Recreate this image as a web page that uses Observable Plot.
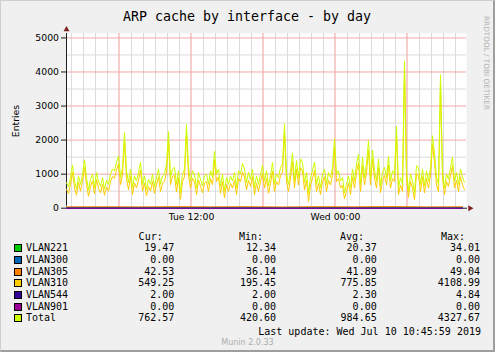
<!DOCTYPE html>
<html><head><meta charset="utf-8">
<script src="https://cdn.jsdelivr.net/npm/d3@7"></script>
<script src="https://cdn.jsdelivr.net/npm/@observablehq/plot@0.6"></script>
<style>
html,body{margin:0;padding:0;background:#f0f0f0;}
#fig{position:relative;width:495px;height:352px;background:#f0f0f0;overflow:hidden;font-family:"DejaVu Sans",sans-serif;color:#000;}
#fig .abs{position:absolute;white-space:pre;}
.mono{font-family:"DejaVu Sans Mono",monospace;font-size:10px;line-height:12px;height:12px;}
</style>
</head><body>
<div id="fig"></div>
<script>
// ---- data ----
const title = "ARP cache by interface - by day";
const yLabel = "Entries";
const startTime = new Date(Date.UTC(2019, 6, 9, 1, 35));   // Tue 01:35
const endTime = new Date(Date.UTC(2019, 6, 10, 10, 55));   // Wed 10:55
const stepMinutes = 10;
const yTicks = [0, 1000, 2000, 3000, 4000, 5000];
const yMinorGrid = [500, 1500, 2500, 3500, 4500];
const yMax = 5130;

const totalValues = [
  750,620,900,1270,800,560,950,700,1000,1420,
  900,540,850,1000,600,1050,780,640,900,560,
  820,700,1000,1150,1100,1350,1535,900,
  1200,2220,1100,750,1150,600,950,800,1050,1350,
  700,950,550,850,700,1000,620,900,1150,700,
  950,1000,1300,2250,900,1150,1200,700,1100,450,
  1000,1150,2460,1200,800,1100,1000,600,1050,850,
  650,950,1000,700,1100,900,1680,1000,1150,650,
  1000,500,900,700,950,800,1050,600,1100,1000,
  1320,1150,750,1050,850,1150,600,950,700,1000,
  1260,800,1100,650,950,1340,700,1000,900,1200,
  1300,2480,1000,700,1100,1620,800,1400,900,1450,
  1350,750,1050,430,900,1100,1360,700,950,600,
  1000,1150,700,1050,900,1200,2050,1000,1100,800,
  900,450,700,950,600,1150,800,1300,1580,700,
  1500,900,1300,1980,900,1710,1100,800,1450,650,
  1050,1200,900,1520,800,1100,1000,2400,600,900,
  700,4327,1100,500,1000,800,440,1250,1200,700,
  1150,650,1100,800,1200,2130,1600,900,700,3920,
  1100,600,1000,850,1200,1500,800,1050,700,1150,900,762
];
const vlan310Values = [
  560,430,700,1050,600,380,760,500,790,1200,
  700,350,640,800,420,840,590,450,700,380,
  620,500,790,930,880,1120,1300,690,
  980,1950,880,540,930,400,740,600,830,1120,
  500,740,370,640,500,780,430,690,920,490,
  740,780,1060,1980,690,930,960,480,880,260,
  790,920,2180,970,590,880,780,400,830,640,
  450,740,780,490,870,690,1420,780,920,440,
  780,300,690,490,730,590,820,400,870,780,
  1060,920,540,820,640,920,400,730,490,780,
  1020,590,870,440,730,1090,490,780,680,960,
  1060,2200,780,490,870,1360,590,1150,680,1190,
  1100,540,820,195,680,870,1110,490,730,400,
  780,920,490,820,680,960,1780,780,870,590,
  680,280,490,730,400,920,590,1060,1320,490,
  1240,680,1060,1700,680,1450,870,590,1200,450,
  820,960,680,1260,590,870,780,2120,400,680,
  490,4109,870,320,780,590,250,1000,960,490,
  920,450,870,590,960,1860,1340,680,490,3650,
  870,400,780,640,960,1250,590,820,490,920,680,549
];
// near-flat series, sampled every 3 hours
const flatStepHours = 3;
const vlan221Values = [22, 18, 25, 14, 20, 31, 17, 23, 13, 26, 21, 19.5];
const vlan300Values = [0, 0, 0, 0, 0, 0, 0, 0, 0, 0, 0, 0];
const vlan305Values = [40, 44, 38, 47, 41, 43, 37, 45, 42, 49, 40, 42.5];
const vlan544Values = [2, 2, 3, 2, 2, 4.8, 2, 2, 2.5, 2, 2, 2];
const vlan901Values = [0, 0, 0, 0, 0, 0, 0, 0, 0, 0, 0, 0];

const seriesNames = ["VLAN221", "VLAN300", "VLAN305", "VLAN310", "VLAN544", "VLAN901", "Total"];
const seriesColors = ["#00cc00", "#0066b3", "#ff8000", "#ffcc00", "#330099", "#990099", "#ccff00"];
const curValues = ["19.47", "0.00", "42.53", "549.25", "2.00", "0.00", "762.57"];
const minValues = ["12.34", "0.00", "36.14", "195.45", "2.00", "0.00", "420.60"];
const avgValues = ["20.37", "0.00", "41.89", "775.85", "2.30", "0.00", "984.65"];
const maxValues = ["34.01", "0.00", "49.04", "4108.99", "4.84", "0.00", "4327.67"];
const columnHeaders = ["Cur:", "Min:", "Avg:", "Max:"];
const lastUpdate = "Last update: Wed Jul 10 10:45:59 2019";
const rrdCredit = "RRDTOOL / TOBI OETIKER";
const muninVersion = "Munin 2.0.33";

// ---- tables ----
const times = totalValues.map((_, i) => new Date(startTime.getTime() + i * stepMinutes * 60000));
const flatTimes = vlan221Values.map((_, i) => new Date(startTime.getTime() + i * flatStepHours * 3600000));
const mainRows = (vals) => vals.map((v, i) => ({t: times[i], v}));
const flatRows = (vals) => vals.map((v, i) => ({t: flatTimes[i], v}));
const seriesRows = [
  flatRows(vlan221Values), flatRows(vlan300Values), flatRows(vlan305Values),
  mainRows(vlan310Values), flatRows(vlan544Values), flatRows(vlan901Values), mainRows(totalValues)
];
const hours = d3.utcHour.range(d3.utcHour.ceil(startTime), endTime);
const minorHours = hours.filter(d => d.getUTCHours() % 6 !== 0);
const majorHours = hours.filter(d => d.getUTCHours() % 6 === 0);
const labelHours = hours.filter(d => d.getUTCHours() % 12 === 0);
const fmt = d3.utcFormat("%a %H:%M");

const fig = document.getElementById("fig");

const plot = Plot.plot({
  width: 495, height: 232,
  marginLeft: 66, marginRight: 29, marginTop: 33, marginBottom: 24.3,
  x: {type: "utc", domain: [startTime, endTime], axis: null},
  y: {domain: [0, yMax], axis: null},
  style: {background: "transparent", fontFamily: "DejaVu Sans", fontSize: "9.3px", color: "#000", overflow: "visible"},
  marks: [
    Plot.frame({fill: "#ffffff", stroke: "none"}),
    Plot.ruleX(minorHours, {x: d => d, y1: 0, y2: yMax, stroke: "#dcdcdc", strokeWidth: 1}),
    Plot.ruleY(yMinorGrid, {y: d => d, x1: startTime, x2: endTime, stroke: "#dcdcdc", strokeWidth: 1}),
    Plot.ruleX(majorHours, {x: d => d, y1: 0, y2: yMax, dx: -0.5, stroke: "#ee9a9a", strokeWidth: 1}),
    Plot.ruleY(yTicks.filter(d => d > 0), {y: d => d, x1: startTime, x2: endTime, stroke: "#f2a8a8", strokeWidth: 1}),
    Plot.ruleY(yTicks, {y: d => d, x1: startTime, x2: startTime, insetLeft: -5, stroke: "#1f1f1f", strokeWidth: 1}),
    Plot.text(yTicks, {y: d => d, frameAnchor: "left", dx: -7.5, textAnchor: "end", text: d => String(d), fill: "#000", fontSize: 9.3}),
    Plot.text(labelHours, {x: d => d, frameAnchor: "bottom", dy: 11.5, text: d => fmt(d), fill: "#000", fontSize: 9.3}),
    Plot.ruleX([startTime], {y1: 0, y2: yMax, insetTop: -2, stroke: "#1f1f1f", strokeWidth: 1}),
    Plot.ruleY([0], {x1: startTime, x2: endTime, insetRight: -1, stroke: "#1f1f1f", strokeWidth: 1}),
    ...seriesRows.map((rows, k) => Plot.line(rows, {x: "t", y: "v", stroke: seriesColors[k], strokeWidth: 1})),
    Plot.dot([startTime], {x: d => d, y: () => yMax, dy: -4, symbol: "triangle", r: 2.2, fill: "#7f1f1f", stroke: "none"}),
    Plot.dot([endTime], {x: d => d, y: () => 0, dx: 3.5, rotate: 90, symbol: "triangle", r: 2.2, fill: "#7f1f1f", stroke: "none"})
  ]
});
plot.style.position = "absolute";
plot.style.left = "0px";
plot.style.top = "0px";
fig.appendChild(plot);

function addDiv(text, css, cls) {
  const d = document.createElement("div");
  d.className = "abs" + (cls ? " " + cls : "");
  d.textContent = text;
  Object.assign(d.style, css);
  fig.appendChild(d);
  return d;
}

// title
addDiv(title, {left: "0px", width: "494px", top: "8.5px", textAlign: "center",
  fontFamily: "'DejaVu Sans Mono', monospace", fontSize: "13.3px", lineHeight: "15px"});
// y label
addDiv(yLabel, {left: "14.5px", top: "121px", fontSize: "9.3px", lineHeight: "11px",
  transform: "translate(-50%,-50%) rotate(-90deg)"});
// rrdtool credit
addDiv(rrdCredit, {left: "481.5px", top: "16px", fontSize: "7.3px", lineHeight: "8px",
  writingMode: "vertical-rl", color: "#b4b4b4"});

// legend
const rowY0 = 248.3, rowStep = 11.67;
const headerRight = [162.7, 263, 364, 465];
const valueRight = [174.3, 276, 376.7, 480];
columnHeaders.forEach((h, j) => addDiv(h, {right: (495 - headerRight[j]) + "px", top: (236.7 - 6) + "px", textAlign: "right"}, "mono"));
const cols = [curValues, minValues, avgValues, maxValues];
seriesNames.forEach((name, i) => {
  const yc = rowY0 + i * rowStep;
  const sw = document.createElement("div");
  Object.assign(sw.style, {position: "absolute", left: "14px", top: (yc - 4) + "px", width: "8px", height: "8px",
    boxSizing: "border-box", border: "1px solid #000", background: seriesColors[i]});
  fig.appendChild(sw);
  addDiv(name, {left: "26px", top: (yc - 6) + "px"}, "mono");
  cols.forEach((col, j) => addDiv(col[i], {right: (495 - valueRight[j]) + "px", top: (yc - 6) + "px", textAlign: "right"}, "mono"));
});
addDiv(lastUpdate, {right: (495 - 481) + "px", top: (332.3 - 6) + "px", textAlign: "right"}, "mono");
addDiv(muninVersion, {left: "0px", width: "495px", textAlign: "center", top: (343.3 - 5) + "px",
  fontSize: "8px", lineHeight: "10px", color: "#acacac"});

// frame shading
const frame = document.createElement("div");
Object.assign(frame.style, {position: "absolute", left: "0px", top: "0px", width: "495px", height: "352px",
  boxSizing: "border-box", borderTop: "1px solid #cfcfcf", borderLeft: "1px solid #cfcfcf",
  borderRight: "2px solid #9e9e9e", borderBottom: "2px solid #9e9e9e", pointerEvents: "none"});
fig.appendChild(frame);
</script>
</body></html>
